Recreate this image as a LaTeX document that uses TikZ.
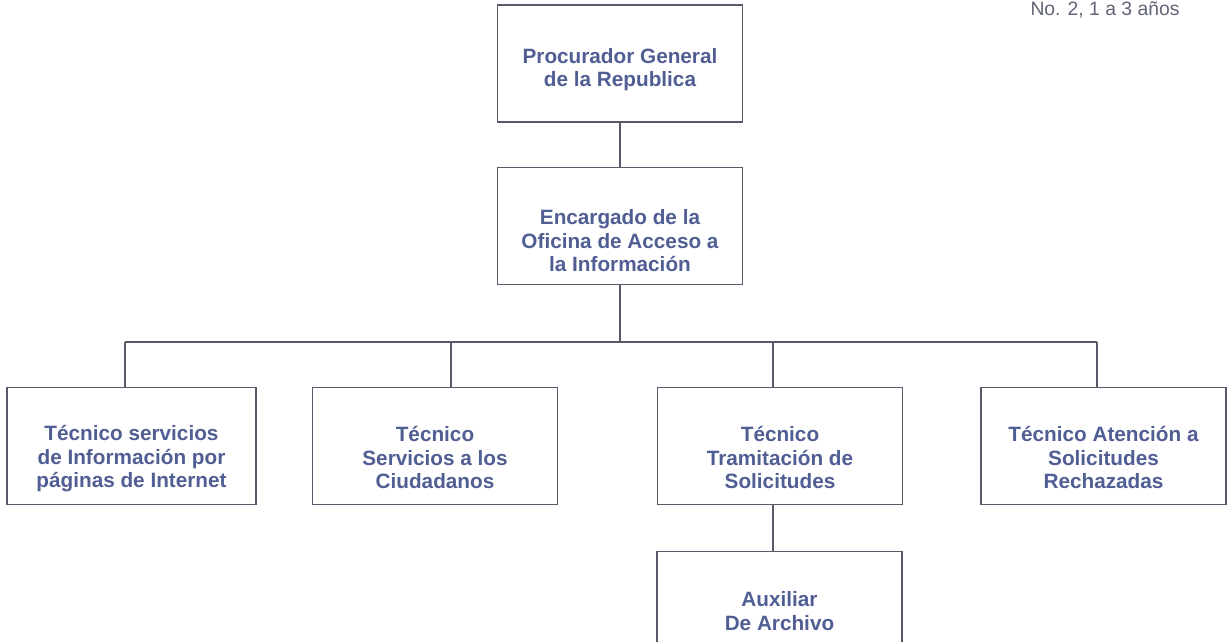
\documentclass[tikz,border=0pt]{standalone}
\usepackage{fontspec}
\setmainfont{Liberation Sans}
\usetikzlibrary{positioning}

\definecolor{textoazul}{RGB}{80,94,148}
\definecolor{borde}{RGB}{88,90,106}
\definecolor{gristexto}{RGB}{96,100,116}

\tikzset{
  caja/.style={draw=borde, line width=1.1pt, fill=white, minimum width=4.9cm,
    minimum height=2.34cm, align=center, text=textoazul, inner sep=2pt,
    font=\fontsize{11.8}{13.4}\selectfont\bfseries},
  linea/.style={draw=borde, line width=1.1pt},
}

\begin{document}
\begin{tikzpicture}[x=0.02cm, y=-0.02cm]
    \useasboundingbox (0,0) rectangle (1228,642);

    % Note
    \node[font=\fontsize{11}{13}\selectfont, text=gristexto, anchor=base] (nota) at (1105,16) {No. 2, 1 a 3 a\~nos};

    % Boxes
    \node[caja, text height=29pt] (procurador) at (620,63.5) {Procurador General\\de la Republica};
    \node[caja, text height=52pt] (encargado) at (620,226) {Encargado de la\\Oficina de Acceso a\\la Informaci\'on};

    \node[caja, minimum width=4.98cm, text height=50pt] (internet) at (131.5,446) {T\'ecnico servicios\\de Informaci\'on por\\p\'aginas de Internet};
    \node[caja, text height=49pt] (ciudadanos) at (435,446) {T\'ecnico\\Servicios a los\\Ciudadanos};
    \node[caja, text height=49pt] (tramitacion) at (780,446) {T\'ecnico\\Tramitaci\'on de\\Solicitudes};
    \node[caja, text height=49pt] (rechazadas) at (1103.5,446) {T\'ecnico Atenci\'on a\\Solicitudes\\Rechazadas};

    \node[caja, text height=23pt] (archivo) at (779.5,610) {Auxiliar\\De Archivo};

    % Lines
    \coordinate (b1) at (125,342);
    \coordinate (b2) at (451,342);
    \coordinate (b3) at (773,342);
    \coordinate (b4) at (1097,342);

    \draw[linea] (procurador) -- (encargado);
    \draw[linea] (encargado.south) -- (encargado.south |- b1);
    \draw[linea] (b1) -- (b4);
    \draw[linea] (b1) -- (b1 |- internet.north);
    \draw[linea] (b2) -- (b2 |- ciudadanos.north);
    \draw[linea] (b3) -- (b3 |- tramitacion.north);
    \draw[linea] (b4) -- (b4 |- rechazadas.north);
    \draw[linea] (b3 |- tramitacion.south) -- (b3 |- archivo.north);
\end{tikzpicture}
\end{document}
